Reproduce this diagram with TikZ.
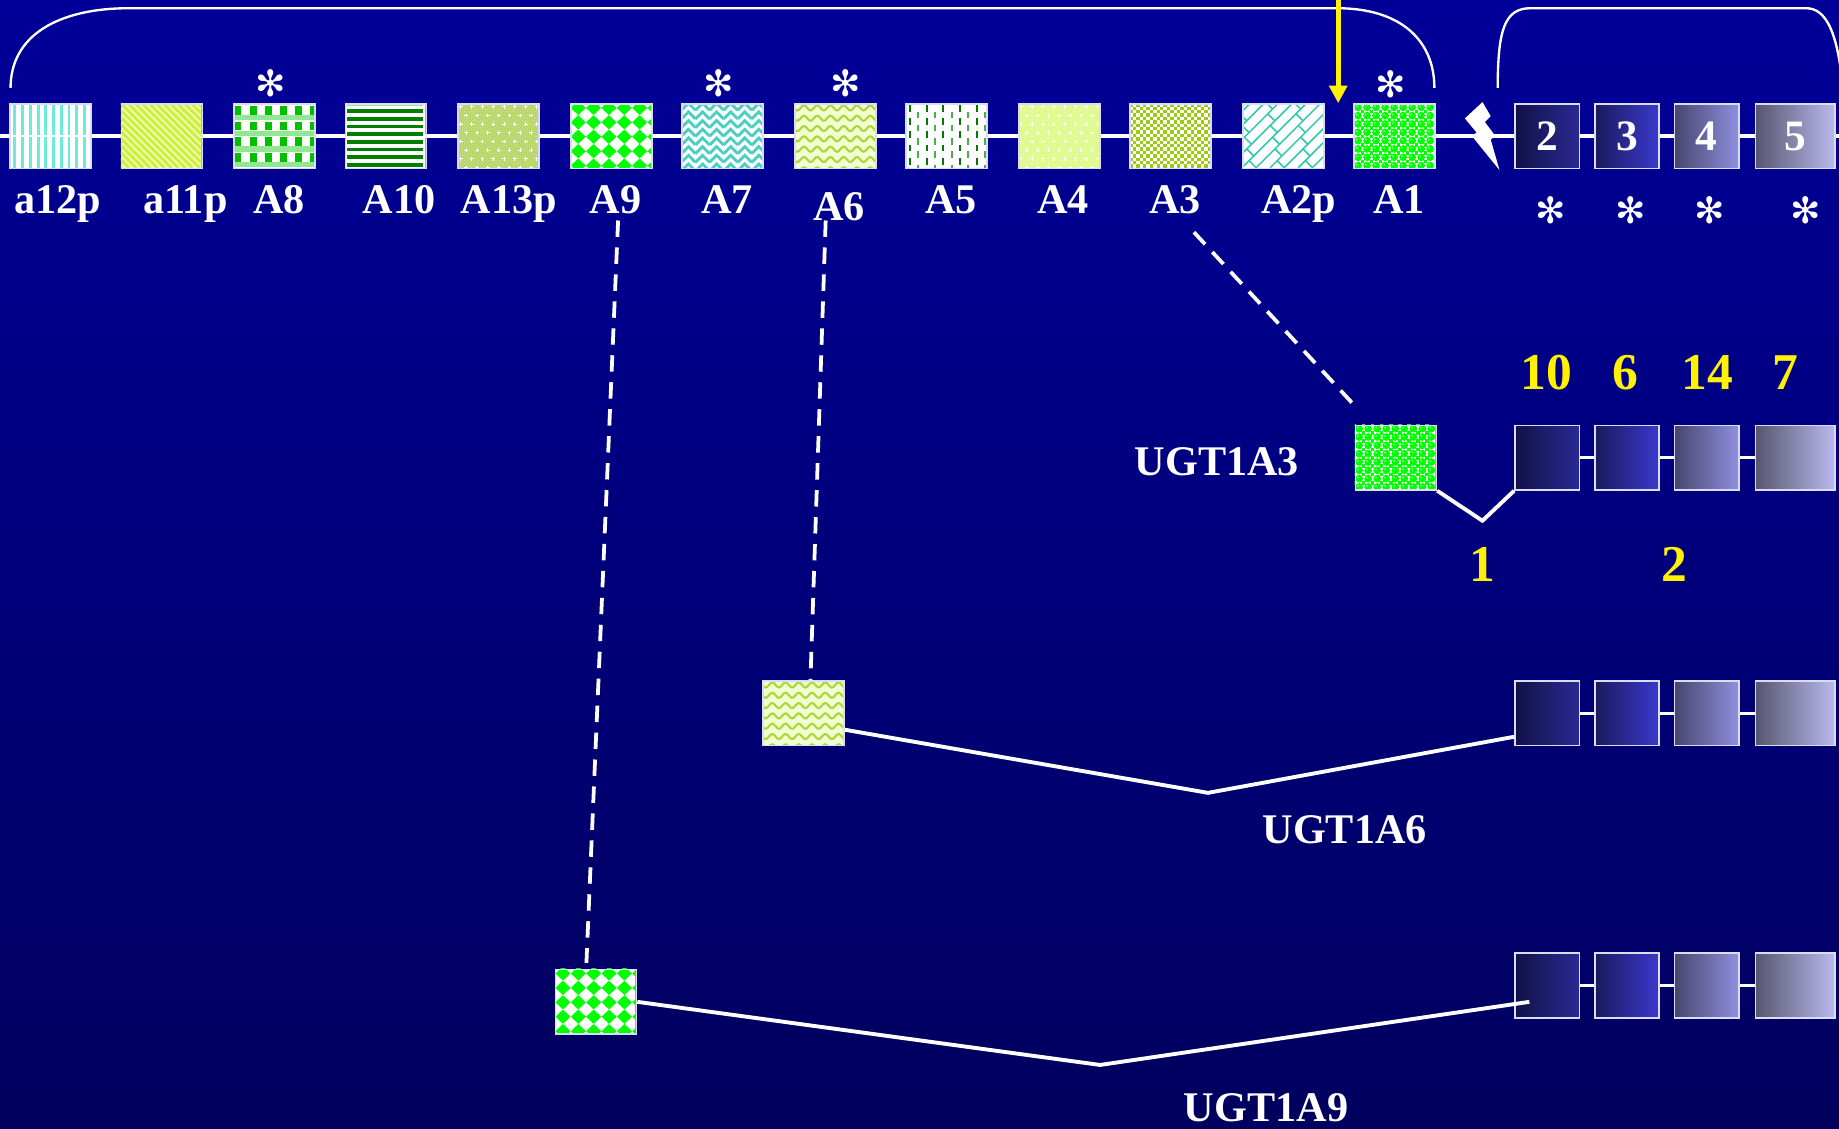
\documentclass[tikz,border=0pt]{standalone}
\usepackage{fontspec}
\setmainfont{Liberation Serif}
\newfontfamily\dejavu{DejaVu Sans}
\usetikzlibrary{arrows.meta,patterns}

\definecolor{bgtop}{HTML}{000099}
\definecolor{bgbot}{HTML}{00005E}
\definecolor{framec}{HTML}{DCDCF8}
\definecolor{stripeC}{HTML}{6EEBD6}
\definecolor{yelLight}{HTML}{F2FFC0}
\definecolor{yelStripe}{HTML}{CCF03C}
\definecolor{aEd}{HTML}{00C000}
\definecolor{aEl}{HTML}{90E890}
\definecolor{aTen}{HTML}{007F00}
\definecolor{aThirt}{HTML}{B8D66A}
\definecolor{aThirtD}{HTML}{D4EA9C}
\definecolor{aNine}{HTML}{00FF00}
\definecolor{aSeven}{HTML}{4CCFBE}
\definecolor{aSixBg}{HTML}{F2FFD0}
\definecolor{aSixW}{HTML}{ACD63C}
\definecolor{aFiveD}{HTML}{007A00}
\definecolor{aFiveL}{HTML}{4CAF4C}
\definecolor{aFourBg}{HTML}{DEFA8A}
\definecolor{aFourD}{HTML}{F0FFC0}
\definecolor{aThree}{HTML}{9CCB14}
\definecolor{aTwo}{HTML}{2EC8B0}
\definecolor{aOne}{HTML}{00FF00}
\definecolor{eTwoL}{HTML}{111148}
\definecolor{eTwoR}{HTML}{2A2A94}
\definecolor{eThreeL}{HTML}{1A1A5E}
\definecolor{eThreeR}{HTML}{3A3ACC}
\definecolor{eFourL}{HTML}{46466E}
\definecolor{eFourR}{HTML}{9090E0}
\definecolor{eFiveL}{HTML}{56566E}
\definecolor{eFiveR}{HTML}{BABAF0}
\definecolor{yshadow}{HTML}{00002A}

\newcommand\plusmark[2]{\draw[white, line width=0.8pt] ({#1-1.6},#2) -- ({#1+1.6},#2) (#1,{#2-1.6}) -- (#1,{#2+1.6});}

% ---- patterns, local coordinates 0..69 x 0..55 (y downwards)
\newcommand\patTwelve{%
  \fill[white] (0,0) rectangle (69,55);
  \foreach \i in {0,...,9} \fill[stripeC] ({3.5+\i*6.6},0) rectangle ++(2.4,55);
  \fill[white] (0,27) rectangle (69,28.4);}
\newcommand\patEleven{%
  \fill[yelLight] (0,0) rectangle (69,55);
  \foreach \i in {-60,-54,...,72} \draw[yelStripe, line width=2.6pt] (\i,0) -- ++(55,55);}
\newcommand\patEight{%
  \fill[white] (0,0) rectangle (69,55);
  \foreach \k in {0,...,4} \fill[aEl] (0,{\k*13.3-3.3}) rectangle ++(69,4.6);
  \foreach \j in {0,...,5} \foreach \k in {0,...,3}
    \fill[aEd] ({1.5+\j*12.8},{2.3+\k*13.3}) rectangle ++(5.4,7.6);}
\newcommand\patTen{%
  \fill[white] (0,0) rectangle (69,55);
  \fill[aEl] (2,1.4) rectangle (67,2.4);
  \foreach \k in {0,...,7} \fill[aTen] (2,{5.2+\k*6.55}) rectangle ++(65,3);}
\newcommand\patThirteen{%
  \fill[aThirt] (0,0) rectangle (69,55);
  \fill[pattern=crosshatch dots, pattern color=aThirtD] (0,0) rectangle (69,55);
  \foreach \j in {0,...,7} \foreach \i in {0,...,7}
    {\pgfmathsetmacro\px{3+\i*9.2+mod(\j,2)*4.6}\pgfmathsetmacro\py{3+\j*7.4}\plusmark{\px}{\py}}}
\newcommand\patNine{%
  \fill[white] (0,0) rectangle (69,55);
  \foreach \i in {0,...,5} \foreach \j in {0,...,4}
    \fill[aNine] ({7+\i*13.1-6.4},{4+\j*12.3}) -- ++(6.4,-6.1) -- ++(6.4,6.1) -- ++(-6.4,6.1) -- cycle;}
\newcommand\patSeven{%
  \fill[white] (0,0) rectangle (69,55);
  \foreach \j in {-1,...,8} \foreach \i in {-1,...,6}
    \draw[aSeven, line width=2.4pt, line join=miter] ({\i*12},{\j*7.4+6}) -- ++(6,-6) -- ++(6,6);}
\newcommand\patSix{%
  \fill[aSixBg] (0,0) rectangle (69,55);
  \foreach \j in {0,...,6}
    \draw[aSixW, line width=1.8pt] plot[domain=-2:71, samples=50, smooth] (\x,{4+\j*8.8+2.2*sin(\x*31.86)});}
\newcommand\patFive{%
  \fill[white] (0,0) rectangle (69,55);
  \foreach \i in {0,2,...,8} \foreach \j in {0,...,4}
    \fill[aFiveD] ({3+\i*7.1},{1.5+\j*11.3}) rectangle ++(1.8,5.6);
  \foreach \i in {1,3,...,9} \foreach \j in {-1,...,4}
    \fill[aFiveL] ({3+\i*7.1},{7.1+\j*11.3}) rectangle ++(1.8,5.6);}
\newcommand\patFour{%
  \fill[aFourBg] (0,0) rectangle (69,55);
  \fill[pattern=crosshatch dots, pattern color=aFourD] (0,0) rectangle (69,55);
  \foreach \j in {0,...,7} \foreach \i in {0,...,7}
    {\pgfmathsetmacro\px{3+\i*9.2+mod(\j,2)*4.6}\pgfmathsetmacro\py{3+\j*7.4}\plusmark{\px}{\py}}}
\newcommand\patThree{%
  \fill[white] (0,0) rectangle (69,55);
  \foreach \i in {0,...,11} \foreach \j in {0,...,9}
    {\fill[aThree] ({\i*5.8},{\j*5.8}) rectangle ++(2.9,2.9);
     \fill[aThree] ({\i*5.8+2.9},{\j*5.8+2.9}) rectangle ++(2.9,2.9);}}
\newcommand\patTwo{%
  \fill[white] (0,0) rectangle (69,55);
  \foreach \k in {-5,...,6}
    {\draw[aTwo, line width=1.3pt] ({\k*12},55) -- ++(55,-55);
     \foreach \m in {0,...,3}
       {\pgfmathsetmacro\t{6+\m*20+mod(\k+6,2)*10}
        \draw[aTwo, line width=1.3pt] ({\k*12+\t},{55-\t}) -- ++(6,6);}}}
\newcommand\patOne{%
  \fill[white] (0,0) rectangle (69,55);
  \foreach \i in {0,...,8} \foreach \j in {0,...,7}
    {\fill[aOne] ({3.85+\i*7.7},{3.5+\j*7.1}) circle (3.3pt);
     \fill[aOne] ({\i*7.7-1.5},{\j*7.1-1.5}) rectangle ++(3,3);
     \fill[white!55!aOne] ({2.9+\i*7.7},{2.6+\j*7.1}) circle (0.9pt);}}

% name, x, y, pattern
\newcommand\exonat[4]{%
  \begin{scope}
    \clip (#2,#3) rectangle ++(69,55);
    \begin{scope}[shift={(#2,#3)}]#4\end{scope}
  \end{scope}
  \node[exon] (#1) at (#2,#3) {};}

% prefix, y, four digits
\newcommand\rowexons[6]{%
  \node[gbox, minimum width=55pt, left color=eTwoL, right color=eTwoR] (#1e2) at (1291,#2) {#3};
  \node[gbox, minimum width=55pt, left color=eThreeL, right color=eThreeR] (#1e3) at (1359,#2) {#4};
  \node[gbox, minimum width=55pt, left color=eFourL, right color=eFourR] (#1e4) at (1427,#2) {#5};
  \node[gbox, minimum width=68pt, left color=eFiveL, right color=eFiveR] (#1e5) at (1496,#2) {#6};
  \draw[conn] (#1e2.east) -- (#1e3.west);
  \draw[conn] (#1e3.east) -- (#1e4.west);
  \draw[conn] (#1e4.east) -- (#1e5.west);}

\begin{document}
\begin{tikzpicture}[x=1pt,y=-1pt,
  exon/.style={draw=framec, line width=1.4pt, minimum width=69pt, minimum height=55pt, inner sep=0pt, anchor=north west},
  gbox/.style={draw=framec, line width=1.4pt, minimum height=55pt, inner sep=0pt, anchor=north west, text=white, font=\bfseries\fontsize{37}{37}\selectfont},
  lbl/.style={text=white, font=\bfseries\fontsize{36}{36}\selectfont, inner sep=0pt, anchor=base},
  ynum/.style={text=yellow, font=\bfseries\fontsize{44}{44}\selectfont, inner sep=0pt, anchor=base},
  astk/.style={text=white, font=\dejavu\fontsize{31}{31}\selectfont, inner sep=0pt},
  mainline/.style={draw=white, line width=3.2pt},
  splice/.style={draw=white, line width=3.3pt, line join=miter},
  conn/.style={draw=white, line width=3pt},
  dashline/.style={draw=white, line width=3.2pt, dash pattern=on 14pt off 9pt},
  bracket/.style={draw=white, line width=2pt},
  yarrow/.style={draw=yellow, line width=4pt, -{Triangle[width=15pt,length=15pt]}},
]
\useasboundingbox (0,0) rectangle (1568,962);
\shade[top color=bgtop, bottom color=bgbot] (0,0) rectangle (1568,962);

% brackets
\coordinate (bl0) at (9,75);
\coordinate (bl1) at (1223,75);
\coordinate (br0) at (1277,75);
\coordinate (br1) at (1572,85);
\draw[bracket] (bl0) .. controls (9,30) and (50,7) .. (110,7) -- (1140,7) .. controls (1195,7) and (1223,35) .. (bl1);
\draw[bracket] (br0) .. controls (1277,25) and (1283,7) .. (1305,7) -- (1540,7) .. controls (1556,7) and (1568,25) .. (br1);

% main genomic line
\coordinate (m0) at (0,116);
\coordinate (m1) at (1568,116);
\draw[mainline] (m0) -- (m1);

% top row exons
\exonat{a12p}{8}{88}{\patTwelve}
\exonat{a11p}{103}{88}{\patEleven}
\exonat{A8}{199}{88}{\patEight}
\exonat{A10}{294}{88}{\patTen}
\exonat{A13p}{390}{88}{\patThirteen}
\exonat{A9}{486}{88}{\patNine}
\exonat{A7}{581}{88}{\patSeven}
\exonat{A6}{677}{88}{\patSix}
\exonat{A5}{772}{88}{\patFive}
\exonat{A4}{868}{88}{\patFour}
\exonat{A3}{963}{88}{\patThree}
\exonat{A2p}{1059}{88}{\patTwo}
\exonat{A1}{1154}{88}{\patOne}
\rowexons{t}{88}{2}{3}{4}{5}

% lightning
\fill[white] (1264,87) -- (1249,101) -- (1259,113) -- (1255,116) -- (1278.5,145) -- (1271,119) -- (1275,116) -- (1266,104) -- (1271,99) -- cycle;

% yellow arrow
\coordinate (ya0) at (1141,-6);
\coordinate (ya1) at (1141,88);
\draw[yarrow] (ya0) -- (ya1);

% labels
\node[lbl] (la12p) at (49,182) {a12p};
\node[lbl] (la11p) at (158,182) {a11p};
\node[lbl] (lA8) at (238,182) {A8};
\node[lbl] (lA10) at (340.5,182) {A10};
\node[lbl] (lA13p) at (434,182) {A13p};
\node[lbl] (lA9) at (525,182) {A9};
\node[lbl] (lA7) at (620,182) {A7};
\node[lbl] (lA6) at (715.5,188) {A6};
\node[lbl] (lA5) at (811,182) {A5};
\node[lbl] (lA4) at (906.5,182) {A4};
\node[lbl] (lA3) at (1002,182) {A3};
\node[lbl] (lA2p) at (1107.5,182) {A2p};
\node[lbl] (lA1) at (1193,182) {A1};

% asterisks
\node[astk] (s8) at (230.5,71) {✻};
\node[astk] (s7) at (612.5,71) {✻};
\node[astk] (s6) at (721,71) {✻};
\node[astk] (s1) at (1185.5,72) {✻};
\node[astk] (s2) at (1322,179) {✻};
\node[astk] (s3) at (1390,179) {✻};
\node[astk] (s4) at (1458,179) {✻};
\node[astk] (s5) at (1540,179) {✻};

% UGT1A3
\exonat{r3x}{1155}{362}{\patOne}
\rowexons{r3}{362}{}{}{}{}
\coordinate (v3) at (1264,444);
\draw[splice] (r3x.south east) -- (v3) -- (r3e2.south west);
\node[lbl] (u3) at (1037.5,405) {UGT1A3};
\node[ynum] (n10) at (1318.7,332) {10};
\node[ynum] (n6) at (1386,332) {6};
\node[ynum] (n14) at (1456,332) {14};
\node[ynum] (n7) at (1522,332) {7};
\node[ynum] (n1) at (1264,496) {1};
\node[ynum] (n2) at (1428,496) {2};

% UGT1A6
\exonat{r6x}{650}{580}{\patSix}
\rowexons{r6}{580}{}{}{}{}
\coordinate (v6) at (1030,676);
\draw[splice] ([shift={(0,14)}]r6x.east) -- (v6) -- ([shift={(0,20)}]r6e2.west);
\node[lbl] (u6) at (1146.5,719) {UGT1A6};

% UGT1A9
\exonat{r9x}{473}{826}{\patNine}
\rowexons{r9}{812}{}{}{}{}
\coordinate (v9) at (938,908);
\draw[splice] (r9x.east) -- (v9) -- ([shift={(13,14)}]r9e2.west);
\node[lbl] (u9) at (1079.5,956) {UGT1A9};

% dashed links
\coordinate (d3a) at (1018,198);
\coordinate (d6a) at (704,188);
\coordinate (d9a) at (527,188);
\draw[dashline] (d3a) -- ([shift={(2,-14)}]r3x.north west);
\draw[dashline] (d6a) -- ([shift={(41,0)}]r6x.north west);
\draw[dashline] (d9a) -- ([shift={(27,-5)}]r9x.north west);
\end{tikzpicture}
\end{document}
